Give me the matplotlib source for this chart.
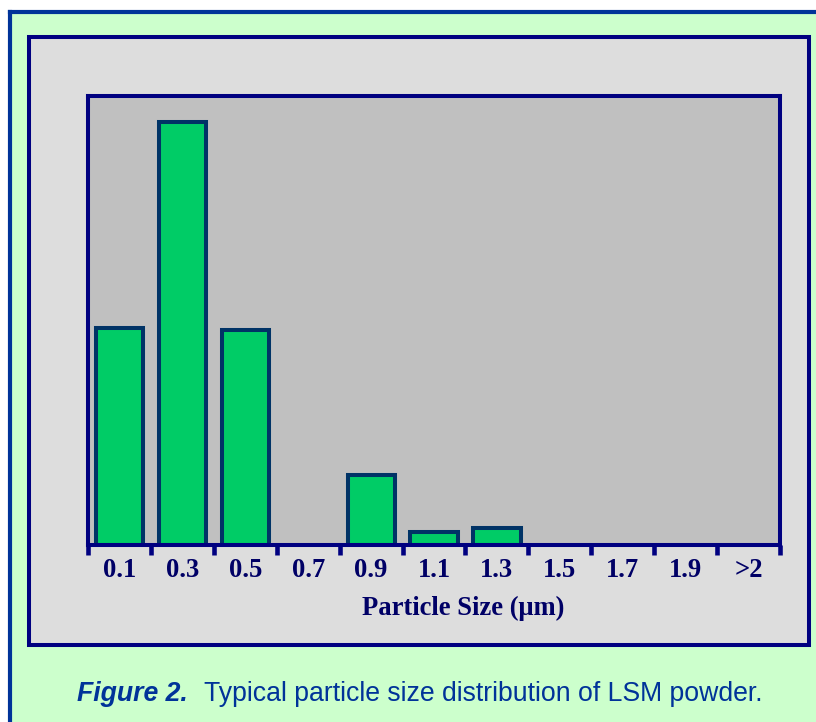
import matplotlib
matplotlib.use("Agg")
import matplotlib.pyplot as plt
import numpy as np
from matplotlib.patches import Rectangle
from matplotlib.lines import Line2D

categories = ["0.1", "0.3", "0.5", "0.7", "0.9", "1.1", "1.3", "1.5", "1.7", "1.9", ">2"]
percent = [22.8, 44.5, 22.6, 0.0, 7.4, 1.4, 1.8, 0.0, 0.0, 0.0, 0.0]
x_label = "Particle Size (\u03bcm)"
caption_bold = "Figure 2."
caption_rest = "Typical particle size distribution of LSM powder."

W, H = 816, 722
DPI = 100
fig = plt.figure(figsize=(W / DPI, H / DPI), dpi=DPI, facecolor="white")

def fx(px):
    return px / W

def fy(py):
    return 1 - py / H

# outer green background with blue left/top border
fig.patches.append(Rectangle((fx(10), 0), 1 - fx(10), fy(12), transform=fig.transFigure,
                             facecolor="#CCFFCC", edgecolor="none", zorder=0))
fig.lines.append(Line2D([fx(10), fx(10)], [0, fy(12)], transform=fig.transFigure,
                        color="#003399", lw=3.0, zorder=1))
fig.lines.append(Line2D([fx(10), 1], [fy(12), fy(12)], transform=fig.transFigure,
                        color="#003399", lw=3.0, zorder=1))

# gray panel
fig.patches.append(Rectangle((fx(28.5), fy(644.5)), fx(808.5) - fx(28.5), fy(37) - fy(644.5),
                             transform=fig.transFigure, facecolor="#DDDDDD",
                             edgecolor="#000080", lw=2.9, zorder=1))

# plot area
ax = fig.add_axes([fx(88), fy(545), fx(780) - fx(88), fy(96) - fy(545)])
ax.set_facecolor("#C0C0C0")
ax.set_zorder(2)

xpos = np.arange(len(categories))
vals = np.array(percent)
mask = vals > 0
ax.bar(xpos[mask], vals[mask], width=0.75, color="#00CC66", edgecolor="#003366",
       linewidth=2.9, zorder=2)

ax.set_xlim(-0.5, len(categories) - 0.5)
ax.set_ylim(0, 47.2)

for s in ax.spines.values():
    s.set_color("#000080")
    s.set_linewidth(2.9)
    s.set_zorder(3)

ax.set_yticks([])
ax.set_xticks(np.arange(-0.5, len(categories), 1.0))
ax.set_xticklabels([])
ax.tick_params(axis="x", which="major", direction="out", length=7.5, width=3.3,
               color="#000080", pad=2)
ax.set_xticks(xpos, minor=True)
ax.set_xticklabels(categories, minor=True, fontfamily="Liberation Serif",
                   fontweight="bold", fontsize=19.2, color="#000066")
ax.tick_params(axis="x", which="minor", length=0, pad=9.5)

# axis title
fig.text(fx(463.5), fy(615), x_label, fontfamily="Liberation Serif", fontweight="bold",
         fontsize=19.2, color="#000066", ha="center", va="baseline")

# caption
t1 = fig.text(fx(77), fy(701), caption_bold, fontfamily="Liberation Sans",
              fontweight="bold", fontstyle="italic", fontsize=19.2, color="#003399",
              ha="left", va="baseline")
plt.annotate(caption_rest, xy=(1, 0), xycoords=t1, xytext=(12, 0),
             textcoords="offset points", ha="left", va="bottom",
             fontfamily="Liberation Sans", fontsize=19.2, color="#003399",
             annotation_clip=False)

fig.savefig("out.png", dpi=DPI, facecolor="white")
